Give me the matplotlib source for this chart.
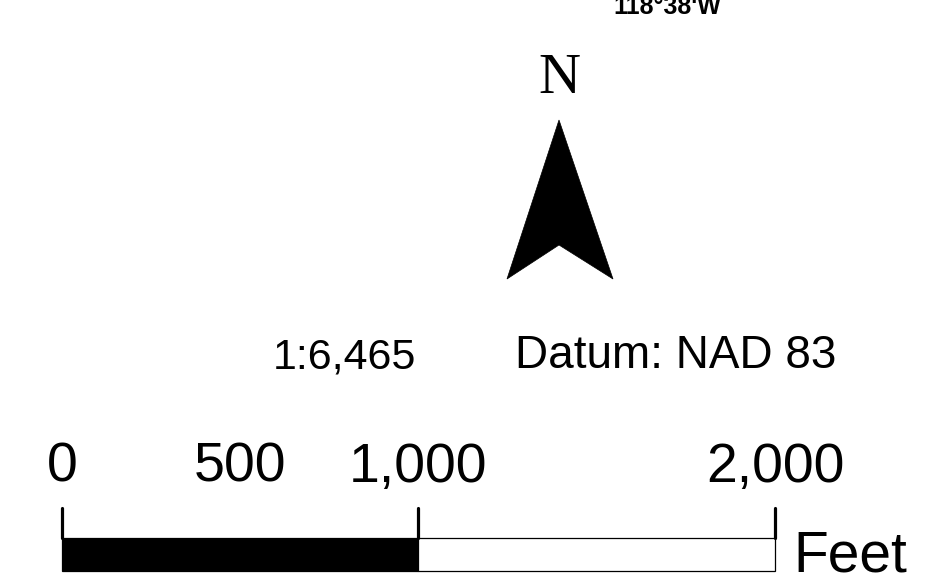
import matplotlib.pyplot as plt
from matplotlib.patches import Polygon, Rectangle

# scale bar data (feet)
label_ft = [0, 500, 1000, 2000]
label_txt = ['0', '500', '1,000', '2,000']
tick_ft = [0, 1000, 2000]
seg_start = [0, 1000]
seg_end = [1000, 2000]
seg_color = ['black', 'white']
unit = 'Feet'
scale_txt = '1:6,465'
datum_txt = 'Datum: NAD 83'
coord_txt = "118°38'W"

W, H = 929, 586
fig = plt.figure(figsize=(W / 100, H / 100), dpi=100)
plt.rcParams['font.family'] = ['Liberation Sans', 'DejaVu Sans']

# pixel-space axes for decorations
ax0 = fig.add_axes([0, 0, 1, 1])
ax0.set_xlim(0, W)
ax0.set_ylim(H, 0)
ax0.axis('off')

# scale-bar axes in feet
x0_px, px_per_ft = 62, 0.3565
ax = fig.add_axes([0, 0, 1, 1])
ax.set_xlim(-x0_px / px_per_ft, (W - x0_px) / px_per_ft)
ax.set_ylim(H, 0)
ax.axis('off')

bar_top, bar_bot, tick_top = 538, 571, 508
for s, e, c in zip(seg_start, seg_end, seg_color):
    ax.add_patch(Rectangle((s, bar_top), e - s, bar_bot - bar_top,
                           facecolor=c, edgecolor='black', lw=0.9))
for t in tick_ft:
    ax.plot([t, t], [tick_top, bar_top], color='black', lw=2.3,
            solid_capstyle='round')
for f, t in zip(label_ft, label_txt):
    ax.text(f, 482, t, ha='center', va='baseline', fontsize=40)
ax.text(2000 + 18 / px_per_ft, 572, unit, ha='left', va='baseline', fontsize=41)

# scale and datum text
ax0.text(273, 368, scale_txt, ha='left', va='baseline', fontsize=31)
ax0.text(515, 368, datum_txt, ha='left', va='baseline', fontsize=33)

# north arrow
cx = 559
arrow = [(cx, 120), (cx + 54, 279), (cx, 245), (cx - 52, 279)]
ax0.add_patch(Polygon(arrow, closed=True, facecolor='black', edgecolor='black', lw=0.5))
ax0.text(cx, 93, 'N', ha='center', va='baseline', fontsize=42,
         family=['Liberation Serif', 'DejaVu Serif'])

# coordinate label at top (cut off)
ax0.text(613, 14, coord_txt, ha='left', va='baseline', fontsize=18, fontweight='bold')

fig.savefig('out.png', dpi=100)
